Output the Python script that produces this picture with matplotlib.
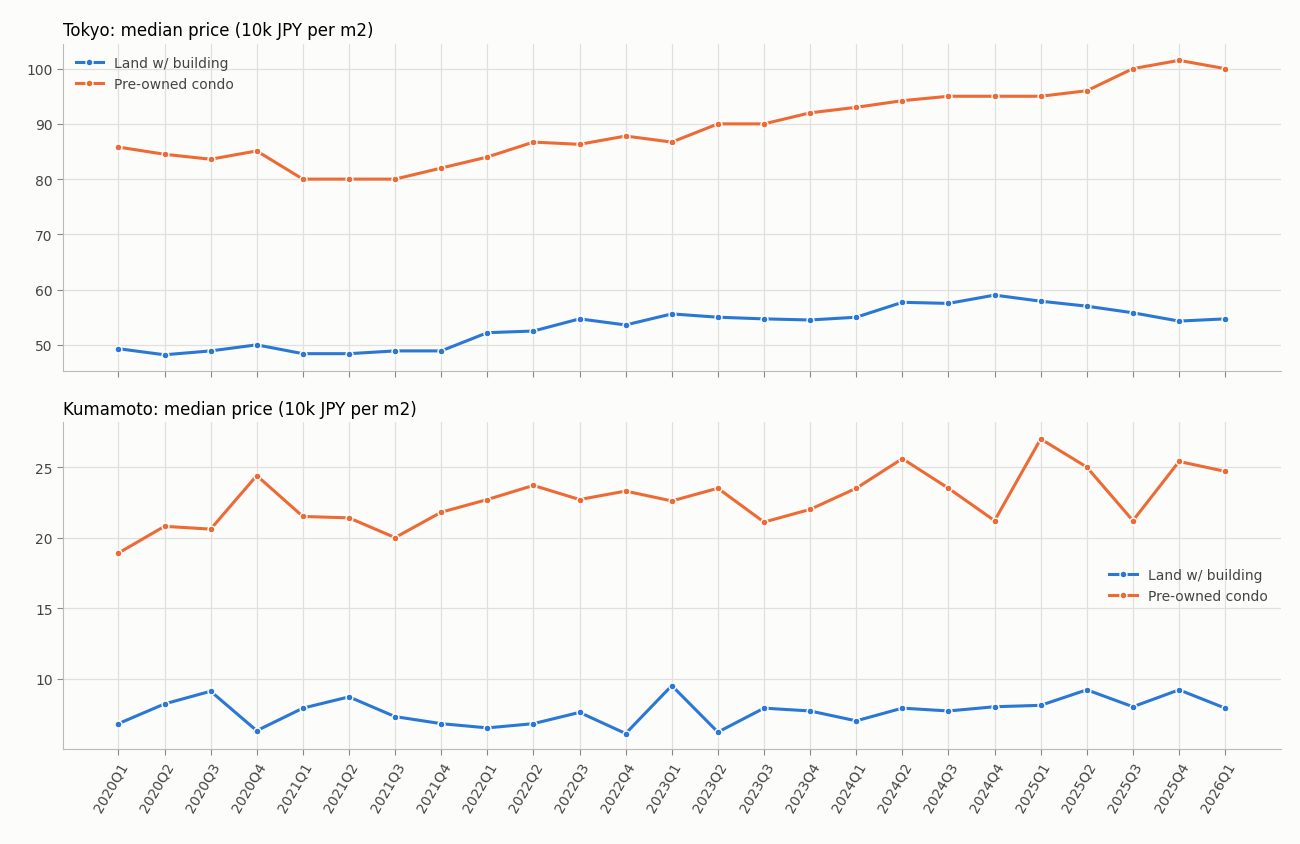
import matplotlib

matplotlib.use("Agg")
import matplotlib.pyplot as plt

plt.rcParams["font.family"] = ["DejaVu Sans"]

quarters = [f"{y}Q{q}" for y in range(2020, 2026) for q in range(1, 5)] + ["2026Q1"]

tokyo_land = [49.3, 48.2, 48.9, 50.0, 48.4, 48.4, 48.9, 48.9, 52.2, 52.5, 54.7, 53.6, 55.6,
              55.0, 54.7, 54.5, 55.0, 57.7, 57.5, 59.0, 57.9, 57.0, 55.8, 54.3, 54.7]
tokyo_condo = [85.8, 84.5, 83.6, 85.1, 80.0, 80.0, 80.0, 82.0, 84.0, 86.7, 86.3, 87.8, 86.7,
               90.0, 90.0, 92.0, 93.0, 94.2, 95.0, 95.0, 95.0, 96.0, 100.0, 101.5, 100.0]
kuma_land = [6.8, 8.2, 9.1, 6.3, 7.9, 8.7, 7.3, 6.8, 6.5, 6.8, 7.6, 6.1, 9.5,
             6.2, 7.9, 7.7, 7.0, 7.9, 7.7, 8.0, 8.1, 9.2, 8.0, 9.2, 7.9]
kuma_condo = [18.9, 20.8, 20.6, 24.4, 21.5, 21.4, 20.0, 21.8, 22.7, 23.7, 22.7, 23.3, 22.6,
              23.5, 21.1, 22.0, 23.5, 25.6, 23.5, 21.2, 27.0, 25.0, 21.2, 25.4, 24.7]

BLUE = "#2a77d6"
ORANGE = "#ee6a35"
BG = "#fcfcfa"

fig = plt.figure(figsize=(13, 8.45), dpi=100, facecolor=BG)
ax1 = fig.add_axes([0.0485, 0.560, 0.9365, 0.387])
ax2 = fig.add_axes([0.0485, 0.1124, 0.9365, 0.387], sharex=ax1)

x = list(range(len(quarters)))
panels = [
    (ax1, tokyo_land, tokyo_condo, "Tokyo: median price (10k JPY per m2)", (45.3, 104.5), "upper left"),
    (ax2, kuma_land, kuma_condo, "Kumamoto: median price (10k JPY per m2)", (5.0, 28.2), "center right"),
]
for ax, land, condo, title, ylim, loc in panels:
    ax.set_facecolor(BG)
    for vals, color, label in [(land, BLUE, "Land w/ building"), (condo, ORANGE, "Pre-owned condo")]:
        ax.plot(x, vals, color=color, lw=2.2, marker="o", ms=5, mfc=color, mec="white",
                mew=1, label=label)
    ax.set_ylim(*ylim)
    ax.set_xlim(-1.2, len(x) - 1 + 1.2)
    ax.grid(True, color="#e0e0dc", lw=0.9)
    ax.set_axisbelow(True)
    ax.spines[["top", "right"]].set_visible(False)
    ax.spines[["left", "bottom"]].set_color("#bbbbb5")
    ax.tick_params(colors="#444444", labelsize=10, length=4, color="#888888")
    ax.set_title(title, loc="left", fontsize=12)
    leg = ax.legend(loc=loc, frameon=False, fontsize=10)
    for t in leg.get_texts():
        t.set_color("#444444")

ax2.set_xticks(x)
ax2.set_xticklabels(quarters, rotation=60, ha="right", rotation_mode="anchor")
ax1.tick_params(labelbottom=False)
ax2.set_yticks([10, 15, 20, 25])

fig.savefig("out.png", dpi=100, facecolor=BG)
